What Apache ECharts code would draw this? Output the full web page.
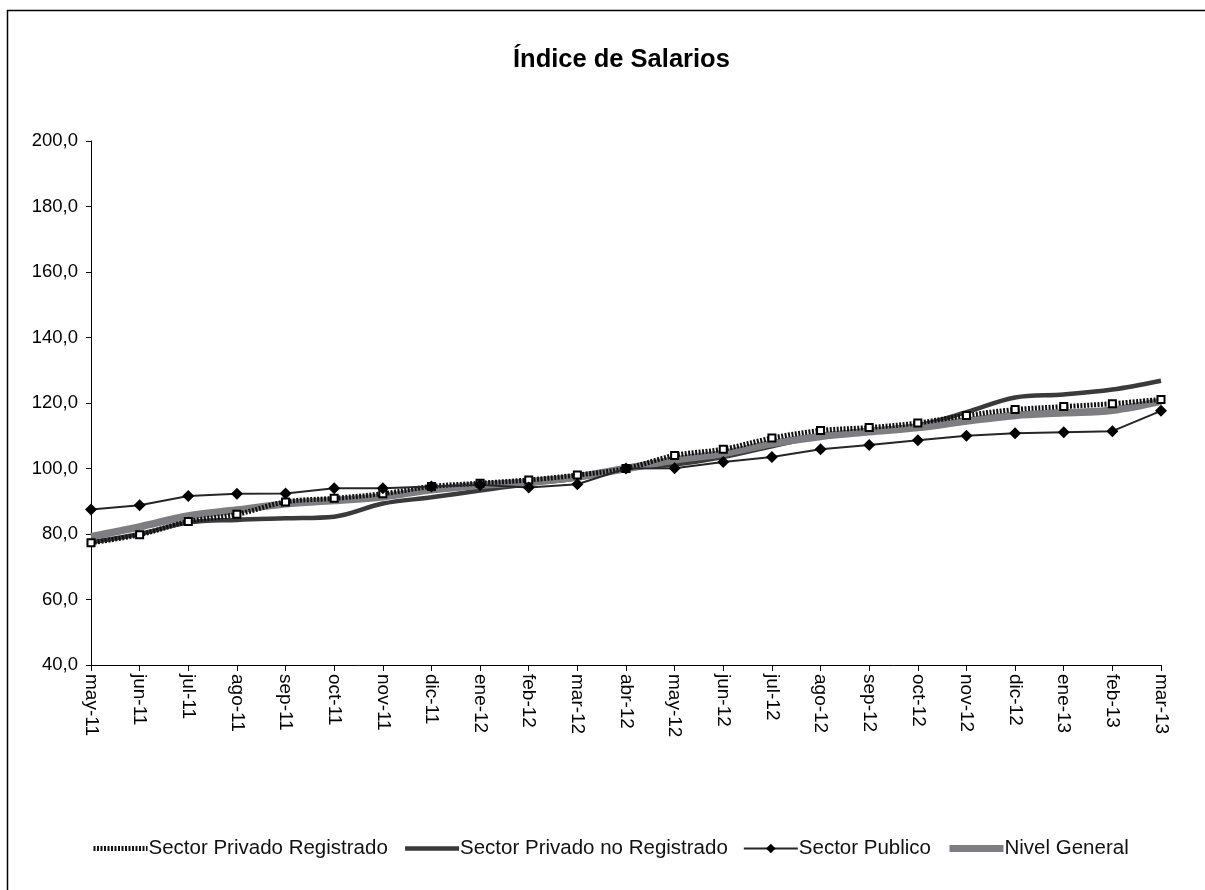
<!DOCTYPE html>
<html>
<head>
<meta charset="utf-8">
<script src="https://cdn.jsdelivr.net/npm/echarts@6/dist/echarts.min.js"></script>
<style>
html,body{margin:0;padding:0;background:#fff;}
#chart{width:1205px;height:890px;}
</style>
</head>
<body>
<div id="chart"></div>
<script>
var categories = ['may-11','jun-11','jul-11','ago-11','sep-11','oct-11','nov-11','dic-11','ene-12','feb-12','mar-12','abr-12','may-12','jun-12','jul-12','ago-12','sep-12','oct-12','nov-12','dic-12','ene-13','feb-13','mar-13'];
var registrado = [77.3, 79.8, 83.8, 86.0, 89.8, 90.9, 92.3, 94.5, 95.5, 96.5, 98.0, 100.0, 104.0, 105.9, 109.3, 111.6, 112.5, 113.9, 116.2, 118.0, 118.9, 119.8, 121.1];
var noRegistrado = [77.5, 80.0, 83.5, 84.3, 84.8, 85.3, 89.3, 91.2, 93.3, 95.3, 97.0, 100.0, 101.2, 103.5, 106.8, 110.0, 111.8, 113.2, 117.2, 121.7, 122.6, 124.1, 126.8];
var publico = [87.5, 88.8, 91.6, 92.3, 92.4, 94.0, 94.0, 94.5, 95.0, 94.2, 95.2, 100.0, 100.1, 102.0, 103.5, 105.9, 107.2, 108.6, 110.0, 110.8, 111.1, 111.4, 117.6];
var general = [79.2, 82.2, 85.5, 87.3, 89.2, 90.2, 91.4, 93.5, 94.9, 95.9, 97.4, 100.0, 102.6, 104.6, 107.6, 109.8, 111.2, 112.5, 114.5, 116.2, 117.0, 117.8, 120.6];
var seriesNames = ['Sector Privado Registrado', 'Sector Privado no Registrado', 'Sector Publico', 'Nivel General'];
var titleText = 'Índice de Salarios';
var yMin = 40, yMax = 200, yStep = 20;

var FONT = '"Liberation Sans", Arial, sans-serif';
var chart = echarts.init(document.getElementById('chart'), null, {renderer: 'canvas'});
chart.setOption({
  backgroundColor: '#fff',
  animation: false,
  graphic: [{
    type: 'rect', z: -10, silent: true,
    shape: {x: 7.5, y: 10.5, width: 1400, height: 1000},
    style: {fill: 'none', stroke: '#000', lineWidth: 1.5}
  }],
  title: {
    text: titleText, left: 508, top: 42,
    textStyle: {fontFamily: FONT, fontSize: 25.5, fontWeight: 'bold', color: '#000'}
  },
  legend: {
    bottom: 26, left: 86, itemGap: 15, itemWidth: 54, itemHeight: 12,
    data: [
      {name: seriesNames[0], itemStyle: {opacity: 0}, lineStyle: {width: 5, color: '#111', type: [2, 1.5]}},
      {name: seriesNames[1], itemStyle: {opacity: 0}, lineStyle: {width: 4.5, color: '#3a3a3a', type: 'solid'}},
      {name: seriesNames[2]},
      {name: seriesNames[3], itemStyle: {opacity: 0}, lineStyle: {width: 7, color: '#7d7d82', type: 'solid'}}
    ],
    textStyle: {fontFamily: FONT, fontSize: 20.5, color: '#111', padding: [0, 0, 0, -4]}
  },
  grid: {left: 91, right: 44, top: 141, bottom: 225, containLabel: false},
  xAxis: {
    type: 'category', data: categories, boundaryGap: false,
    axisLine: {lineStyle: {color: '#000', width: 1}},
    axisTick: {alignWithLabel: true, length: 6, lineStyle: {color: '#000'}},
    axisLabel: {rotate: -90, margin: 9, interval: 0, fontFamily: FONT, fontSize: 19, color: '#000'}
  },
  yAxis: {
    type: 'value', min: yMin, max: yMax, interval: yStep,
    axisLine: {show: true, lineStyle: {color: '#000', width: 1}},
    axisTick: {show: true, length: 5, lineStyle: {color: '#000'}},
    splitLine: {show: false},
    axisLabel: {margin: 13, fontFamily: FONT, fontSize: 18.5, color: '#000',
      formatter: function (v) { return v.toFixed(1).replace('.', ','); }}
  },
  series: [
    {
      name: seriesNames[0], type: 'line', data: registrado, smooth: 0.35, z: 4,
      symbol: 'rect', symbolSize: 7,
      itemStyle: {color: '#fff', borderColor: '#000', borderWidth: 2},
      lineStyle: {color: '#111', width: 5, type: [2, 1.5]}
    },
    {
      name: seriesNames[1], type: 'line', data: noRegistrado, smooth: 0.35, z: 2,
      showSymbol: false, symbol: 'none',
      itemStyle: {color: '#3a3a3a'},
      lineStyle: {color: '#3a3a3a', width: 4.5}
    },
    {
      name: seriesNames[2], type: 'line', data: publico, smooth: false, z: 5,
      symbol: 'diamond', symbolSize: 12,
      itemStyle: {color: '#000'},
      lineStyle: {color: '#262626', width: 2}
    },
    {
      name: seriesNames[3], type: 'line', data: general, smooth: 0.35, z: 3,
      showSymbol: false, symbol: 'none',
      itemStyle: {color: '#7d7d82'},
      lineStyle: {color: '#7d7d82', width: 7.5}
    }
  ]
});
</script>
</body>
</html>
